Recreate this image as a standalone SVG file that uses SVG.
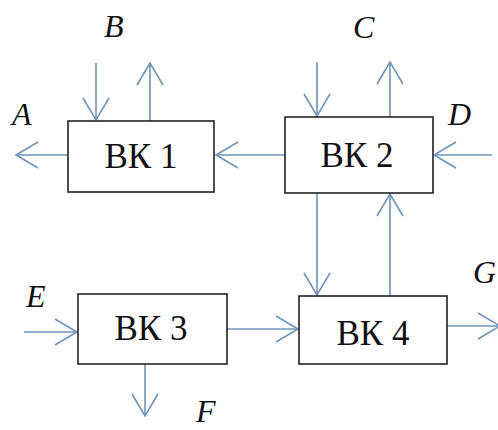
<svg xmlns="http://www.w3.org/2000/svg" width="498" height="430" viewBox="0 0 498 430">
<style>
.box{fill:#fff;stroke:#222;stroke-width:1.6}
.t{font-size:35px;fill:#111;text-anchor:middle}
.l{font-size:32px;font-style:italic;fill:#111}
.c{fill:none;stroke:#6f93b8;stroke-width:1.6;marker-end:url(#ah)}
</style>
<defs>
<marker id="ah" markerUnits="userSpaceOnUse" viewBox="-24 -15 26 30" markerWidth="26" markerHeight="30" refX="0" refY="0" orient="auto">
<path d="M-22,-13 L0,0 L-22,13" fill="none" stroke="#6f93b8" stroke-width="1.6"/>
</marker>
</defs>
<rect width="498" height="430" fill="#fff"/>
<g id="connectors">
<line class="c" x1="96" y1="63" x2="96" y2="120"/>
<line class="c" x1="150" y1="121" x2="150" y2="63"/>
<line class="c" x1="68" y1="155" x2="16" y2="155"/>
<line class="c" x1="285" y1="155" x2="216" y2="155"/>
<line class="c" x1="317" y1="62" x2="317" y2="116"/>
<line class="c" x1="390" y1="117" x2="390" y2="62"/>
<line class="c" x1="492" y1="155" x2="434" y2="155"/>
<line class="c" x1="317" y1="193" x2="317" y2="295"/>
<line class="c" x1="390" y1="296" x2="390" y2="194"/>
<line class="c" x1="24" y1="332" x2="77" y2="332"/>
<line class="c" x1="227" y1="329" x2="298" y2="329"/>
<line class="c" x1="145" y1="364" x2="145" y2="416"/>
<line class="c" x1="447" y1="326" x2="500" y2="326"/>
</g>
<g font-family="Liberation Serif, DejaVu Serif, serif">
<g id="bk1"><rect class="box" x="68" y="121" width="146" height="71"/><text class="t" x="141" y="168">ВК 1</text></g>
<g id="bk2"><rect class="box" x="285" y="117" width="148" height="76"/><text class="t" x="357" y="167">ВК 2</text></g>
<g id="bk3"><rect class="box" x="78" y="294" width="149" height="70"/><text class="t" x="151" y="340">ВК 3</text></g>
<g id="bk4"><rect class="box" x="299" y="296" width="148" height="68"/><text class="t" x="373" y="345">ВК 4</text></g>
<g id="labels">
<text class="l" x="104" y="37">B</text>
<text class="l" x="12" y="125">A</text>
<text class="l" x="353" y="38">C</text>
<text class="l" x="448" y="125">D</text>
<text class="l" x="26" y="307">E</text>
<text class="l" x="196" y="422">F</text>
<text class="l" x="473" y="283">G</text>
</g>
</g>
</svg>
